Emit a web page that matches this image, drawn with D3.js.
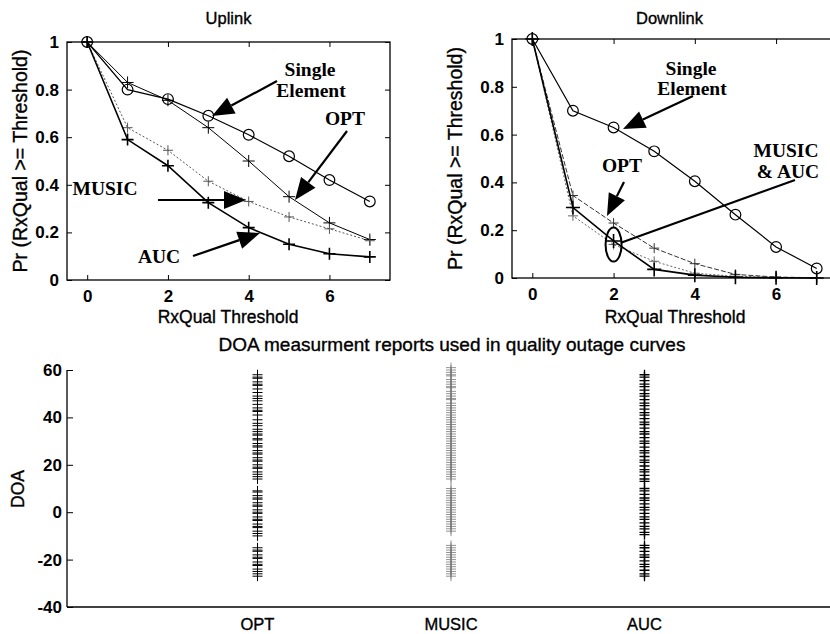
<!DOCTYPE html>
<html>
<head>
<meta charset="utf-8">
<script src="https://cdn.jsdelivr.net/npm/d3@7"></script>
<style>
  body { margin: 0; background: #fff; }
  svg { display: block; }
  .tick text { font-family: "Liberation Sans", Arial, sans-serif; }
</style>
</head>
<body>
<div id="chart"></div>
<script>
// --- dados ---
const thresholds = [0, 1, 2, 3, 4, 5, 6, 7];

const upSingle = [1, 0.80, 0.76, 0.69, 0.61, 0.52, 0.42, 0.33];
const upOpt    = [1, 0.83, 0.755, 0.64, 0.50, 0.35, 0.24, 0.17];
const upMusic  = [1, 0.64, 0.545, 0.415, 0.33, 0.265, 0.215, 0.165];
const upAuc    = [1, 0.59, 0.48, 0.325, 0.22, 0.15, 0.11, 0.097];

const dnSingle = [1, 0.70, 0.63, 0.53, 0.405, 0.265, 0.13, 0.04];
const dnOpt    = [1, 0.345, 0.23, 0.125, 0.06, 0.015, 0.004, 0.001];
const dnMusic  = [1, 0.26, 0.14, 0.07, 0.02, 0.007, 0.002, 0];
const dnAuc    = [1, 0.295, 0.155, 0.036, 0.012, 0.003, 0.001, 0];

const probTicks = [0, 0.2, 0.4, 0.6, 0.8, 1];
const thrTicks = [0, 2, 4, 6];

const methods = ["OPT", "MUSIC", "AUC"];
const doaTicks = [-40, -20, 0, 20, 40, 60];

const doaOpt = [58, 57, 56.5, 55, 54, 53.5, 52, 50.5, 49, 48, 47, 45.5, 44, 43, 42.5, 41, 39, 37.5, 36.5, 35,
  34, 33, 32.5, 31, 30.5, 29, 28, 27.5, 26, 25, 24.5, 23, 22, 21.5, 20, 19, 18.5, 17, 16, 15, 14,
  9, 8.5, 7, 6, 5.5, 4, 3, 2.5, 1, 0, -0.5, -2, -3, -3.5, -5, -6, -6.5, -8, -9, -10,
  -15, -16, -16.5, -18, -19, -19.5, -21, -22, -22.5, -24, -25, -26, -27];
const doaMusic = [61, 60, 59, 58, 57.5, 56, 55, 54, 53, 52.5, 51, 50, 49, 48, 47.5, 46, 45, 44, 43, 42, 41, 40,
  39, 38, 37, 36, 35, 34, 33, 32, 31, 30, 29, 28, 27, 26, 25, 24, 23, 22, 21, 20, 19, 18, 17, 16, 15, 14,
  10, 9, 8, 7, 6, 5, 4, 3, 2, 1, 0, -1, -2, -3, -4, -5, -6, -7, -8,
  -14, -15, -16, -17, -18, -19, -20, -21, -22, -23, -24, -25, -26, -27];
const doaAuc = [58, 57, 55.5, 54, 53, 51.5, 50, 49, 47.5, 46, 45, 43.5, 42, 41, 39.5, 38, 37, 35.5, 34, 33,
  31.5, 30, 29, 27.5, 26, 25, 23.5, 22, 21, 19.5, 18, 17, 15.5, 14, 13,
  10, 9, 7.5, 6, 5, 3.5, 2, 1, -0.5, -2, -3, -4.5, -6, -7, -8.5, -9.5,
  -14, -15, -16.5, -18, -19, -20.5, -22, -23, -24.5, -26, -27];

const W = 830, H = 634;
const SANS = '"Liberation Sans", Arial, sans-serif';
const SERIF = '"Liberation Serif", "Times New Roman", serif';

const svg = d3.select("#chart").append("svg")
  .attr("width", W).attr("height", H)
  .attr("viewBox", [0, 0, W, H]);

const plus = s => `M${-s},0H${s}M0,${-s}V${s}`;

function arrow(g, x1, y1, x2, y2) {
  const a = Math.atan2(y2 - y1, x2 - x1);
  const L = 22, w = 9;
  const bx = x2 - L * Math.cos(a), by = y2 - L * Math.sin(a);
  g.append("line").attr("x1", x1).attr("y1", y1).attr("x2", bx).attr("y2", by)
    .attr("stroke", "#000").attr("stroke-width", 2.2);
  g.append("path")
    .attr("d", `M${x2},${y2}L${bx + w * Math.sin(a)},${by - w * Math.cos(a)}L${bx - w * Math.sin(a)},${by + w * Math.cos(a)}Z`)
    .attr("fill", "#000");
}

// texto com um leve contorno, para lembrar a digitalização
function label(g, txt, x, y, opts = {}) {
  return g.append("text").attr("x", x).attr("y", y)
    .attr("text-anchor", opts.anchor || "middle")
    .attr("font-family", opts.family || SANS)
    .attr("font-size", opts.size || 17)
    .attr("font-weight", opts.weight || "normal")
    .attr("stroke", opts.weight ? null : "#000")
    .attr("stroke-width", opts.weight ? null : 0.35)
    .attr("transform", opts.rotate ? `rotate(-90,${x},${y})` : null)
    .text(txt);
}

// Painel de probabilidade (Uplink / Downlink)
function probPanel(box, title, series) {
  const x = d3.scaleLinear().domain([-0.5, 7.5]).range([box.left, box.right]);
  const y = d3.scaleLinear().domain([0, 1]).range([box.bottom, box.top]);
  const g = svg.append("g");

  // moldura
  g.append("rect").attr("x", box.left).attr("y", box.top)
    .attr("width", box.right - box.left).attr("height", box.bottom - box.top)
    .attr("fill", "none").attr("stroke", "#000").attr("stroke-width", 1.3);

  // eixos com ticks para dentro
  g.append("g").attr("transform", `translate(0,${box.bottom})`)
    .call(d3.axisBottom(x).tickValues(thrTicks).tickSize(-5).tickPadding(10).tickFormat(d => String(d)));
  g.append("g").attr("transform", `translate(0,${box.top})`)
    .call(d3.axisTop(x).tickValues(thrTicks).tickSize(-5).tickFormat(""));
  g.append("g").attr("transform", `translate(${box.left},0)`)
    .call(d3.axisLeft(y).tickValues(probTicks).tickSize(-5).tickPadding(8).tickFormat(d => String(d)));
  g.append("g").attr("transform", `translate(${box.right},0)`)
    .call(d3.axisRight(y).tickValues(probTicks).tickSize(-5).tickFormat(""));
  g.selectAll(".domain").remove();
  g.selectAll(".tick line").attr("stroke", "#000");
  g.selectAll(".tick text").attr("font-size", 17).attr("font-weight", "bold").attr("fill", "#000");

  label(g, title, (box.left + box.right) / 2 - (title === "Downlink" ? 5 : 0), 24, {size: 16.5});
  label(g, "RxQual Threshold", box.xlab, 323, {size: 17.5});
  label(g, "Pr (RxQual >= Threshold)", box.ylabX, (box.top + box.bottom) / 2, {size: 19.5, rotate: true});

  const line = d3.line().x((d, i) => x(thresholds[i])).y(d => y(d));
  series.forEach(s => {
    g.append("path").datum(s.values)
      .attr("d", line).attr("fill", "none")
      .attr("stroke", s.color).attr("stroke-width", s.width)
      .attr("stroke-dasharray", s.dash || null);
    const m = g.append("g").selectAll("path").data(s.values).join("path")
      .attr("transform", (d, i) => `translate(${x(thresholds[i])},${y(d)})`)
      .attr("stroke", s.color).attr("stroke-width", s.mwidth || s.width);
    if (s.marker === "o") m.attr("d", d3.symbol(d3.symbolCircle, 90)()).attr("fill", "none");
    else m.attr("d", plus(s.size)).attr("fill", "none");
  });
  return {g, x, y};
}

// Uplink
const up = probPanel({left: 67, right: 390, top: 42, bottom: 280, xlab: 228, ylabX: 27}, "Uplink", [
  {values: upSingle, marker: "o", color: "#000", width: 1.2},
  {values: upOpt, marker: "+", size: 6, color: "#000", width: 1},
  {values: upMusic, marker: "+", size: 5, color: "#555", width: 1, dash: "2,2"},
  {values: upAuc, marker: "+", size: 6, color: "#000", width: 1.6}
]);

// Downlink
const dn = probPanel({left: 512, right: 837, top: 39, bottom: 278, xlab: 675, ylabX: 462}, "Downlink", [
  {values: dnSingle, marker: "o", color: "#000", width: 1.2},
  {values: dnOpt, marker: "+", size: 5, color: "#333", width: 1, dash: "5,2"},
  {values: dnMusic, marker: "+", size: 5, color: "#666", width: 1, dash: "2,2"},
  {values: dnAuc, marker: "+", size: 7, color: "#000", width: 1.6}
]);

// anotações Uplink
const ua = svg.append("g");
label(ua, "Single", 310, 76, {family: SERIF, weight: "bold", size: 19.5});
label(ua, "Element", 311, 97, {family: SERIF, weight: "bold", size: 19.5});
arrow(ua, 277, 81, 212, 116);
label(ua, "OPT", 345, 125, {family: SERIF, weight: "bold", size: 19.5});
arrow(ua, 347, 131, 295, 200);
label(ua, "MUSIC", 105, 195, {family: SERIF, weight: "bold", size: 19.5});
arrow(ua, 158, 200, 246, 200);
label(ua, "AUC", 159, 263, {family: SERIF, weight: "bold", size: 19.5});
arrow(ua, 193, 256, 260, 233);

// anotações Downlink
const da = svg.append("g");
label(da, "Single", 691, 75, {family: SERIF, weight: "bold", size: 19.5});
label(da, "Element", 692, 95, {family: SERIF, weight: "bold", size: 19.5});
arrow(da, 693, 96, 623, 129);
label(da, "MUSIC", 786, 157, {family: SERIF, weight: "bold", size: 19.5});
label(da, "& AUC", 788, 178, {family: SERIF, weight: "bold", size: 19.5});
label(da, "OPT", 622, 172, {family: SERIF, weight: "bold", size: 19.5});
arrow(da, 624, 182, 607, 216);
da.append("ellipse").attr("cx", dn.x(2)).attr("cy", dn.y(0.14)).attr("rx", 8).attr("ry", 17)
  .attr("fill", "none").attr("stroke", "#000").attr("stroke-width", 2);
da.append("line").attr("x1", dn.x(2) + 8).attr("y1", dn.y(0.14) - 2).attr("x2", 795).attr("y2", 180)
  .attr("stroke", "#000").attr("stroke-width", 2.2);

// Painel inferior: DOA
const bx = d3.scaleLinear().domain([0, 4]).range([67, 841]);
const by = d3.scaleLinear().domain([-40, 60]).range([607, 370]);
const bg = svg.append("g");
bg.append("line").attr("x1", 67).attr("x2", 841).attr("y1", by(-40)).attr("y2", by(-40))
  .attr("stroke", "#000").attr("stroke-width", 1.3);
bg.append("line").attr("x1", 67).attr("x2", 67).attr("y1", by(-40)).attr("y2", by(60))
  .attr("stroke", "#000").attr("stroke-width", 1.3);
bg.append("g").attr("transform", "translate(67,0)")
  .call(d3.axisLeft(by).tickValues(doaTicks).tickSize(-6).tickPadding(5).tickFormat(d => String(d)))
  .call(a => a.select(".domain").remove())
  .call(a => a.selectAll(".tick line").attr("stroke", "#000"))
  .call(a => a.selectAll(".tick text").attr("font-size", 17).attr("font-weight", "bold").attr("fill", "#000"));
methods.forEach((m, i) => label(bg, m, bx(i + 1) - 3, 630, {size: 16.5}));
label(bg, "DOA measurment reports used in quality outage curves", 452, 351, {size: 19});
label(bg, "DOA", 24, 489, {size: 17.5, rotate: true});

[[doaOpt, "#000", 1], [doaMusic, "#777", 0.8], [doaAuc, "#000", 1.3]].forEach(([vals, col, sw], i) => {
  bg.append("g").selectAll("path").data(vals).join("path")
    .attr("transform", d => `translate(${bx(i + 1) - 3},${by(d)})`)
    .attr("d", plus(5)).attr("fill", "none")
    .attr("stroke", col).attr("stroke-width", sw);
});
</script>
</body>
</html>
